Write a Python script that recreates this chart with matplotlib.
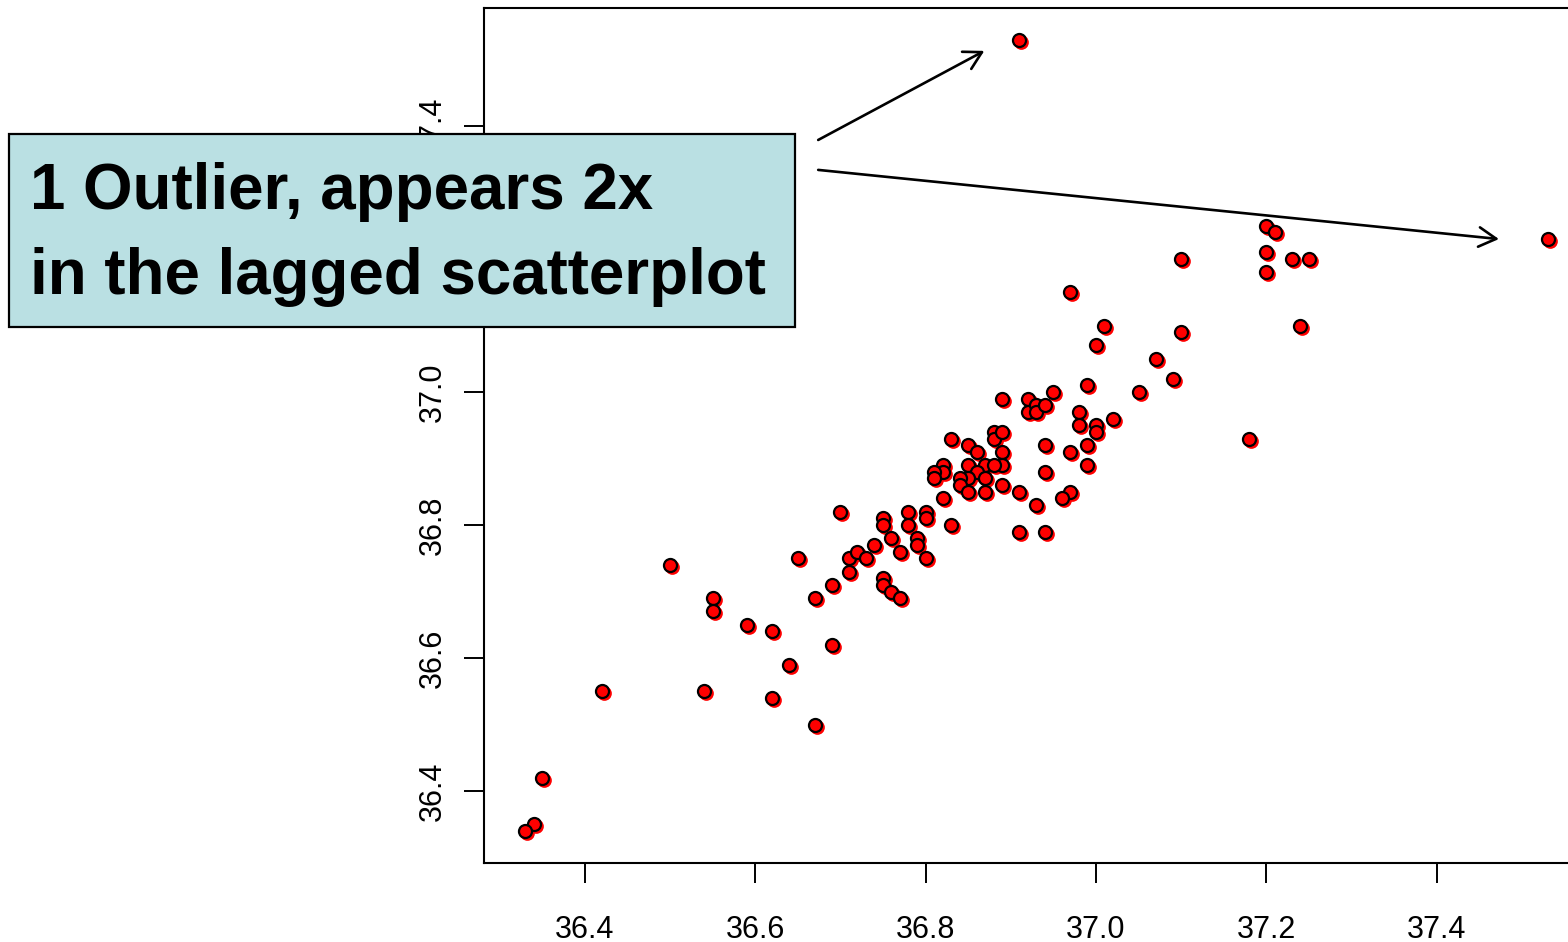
import numpy as np
import matplotlib
matplotlib.use("Agg")
import matplotlib.pyplot as plt
from matplotlib.patches import Rectangle
from matplotlib import transforms

plt.rcParams['font.family'] = ['Liberation Sans', 'DejaVu Sans']

# lagged pairs: temperature at t (x) vs temperature at t+1 (y)
temp_t = [
    36.70, 36.75, 36.75, 36.76, 36.78, 36.78, 36.80, 36.80, 36.79, 36.79,
    36.83, 36.82, 36.83, 36.85, 36.86, 36.88, 36.88, 36.89, 36.89, 36.89,
    36.92, 36.92, 36.93, 36.93, 36.94, 36.95, 36.99, 37.05, 36.98, 36.98,
    37.00, 37.00, 37.02, 36.94, 36.97, 36.99, 36.99, 36.94, 36.97, 36.96,
    36.93, 36.91, 36.91, 36.94, 36.89, 36.89, 36.85, 36.87, 36.88, 36.86,
    36.87, 36.85, 36.84, 36.84, 36.85, 36.87, 36.82, 36.82, 36.81, 36.81,
    36.50, 36.55, 36.55, 36.59, 36.62, 36.64, 36.69, 36.54, 36.62, 36.67,
    36.65, 36.67, 36.69, 36.71, 36.71, 36.72, 36.73, 36.74, 36.75, 36.75,
    36.76, 36.77, 36.77, 36.80, 37.20, 37.21, 37.20, 37.20, 37.23, 37.25,
    37.10, 36.97, 37.01, 37.10, 37.24, 37.00, 37.07, 37.09, 37.18, 37.53,
    36.42, 36.35, 36.34, 36.33, 36.91,
]
temp_next = [
    36.82, 36.81, 36.80, 36.78, 36.82, 36.80, 36.82, 36.81, 36.78, 36.77,
    36.80, 36.84, 36.93, 36.92, 36.91, 36.94, 36.93, 36.94, 36.91, 36.99,
    36.99, 36.97, 36.98, 36.97, 36.98, 37.00, 37.01, 37.00, 36.97, 36.95,
    36.95, 36.94, 36.96, 36.92, 36.91, 36.92, 36.89, 36.88, 36.85, 36.84,
    36.83, 36.85, 36.79, 36.79, 36.89, 36.86, 36.89, 36.89, 36.89, 36.88,
    36.87, 36.87, 36.87, 36.86, 36.85, 36.85, 36.89, 36.88, 36.88, 36.87,
    36.74, 36.69, 36.67, 36.65, 36.64, 36.59, 36.62, 36.55, 36.54, 36.50,
    36.75, 36.69, 36.71, 36.75, 36.73, 36.76, 36.75, 36.77, 36.72, 36.71,
    36.70, 36.69, 36.76, 36.75, 37.25, 37.24, 37.21, 37.18, 37.20, 37.20,
    37.20, 37.15, 37.10, 37.09, 37.10, 37.07, 37.05, 37.02, 36.93, 37.23,
    36.55, 36.42, 36.35, 36.34, 37.53,
]
tick_vals = [36.4, 36.6, 36.8, 37.0, 37.2, 37.4]
note_lines = ["1 Outlier, appears 2x", "in the lagged scatterplot"]

x = np.array(temp_t)
y = np.array(temp_next)

W, H = 1568, 942
fig = plt.figure(figsize=(W / 100, H / 100), dpi=100)
ax = fig.add_axes([484.2 / W, (H - 862.6) / H, 1104.2 / W, 854.7 / H])


def r_range(v):
    # R-style 4% padding on each side
    pad = 0.04 * (v.max() - v.min())
    return v.min() - pad, v.max() + pad


ax.set_xlim(*r_range(x))
ax.set_ylim(*r_range(y))

# red "shadow" under each point, shifted down-right a little
shadow = transforms.offset_copy(ax.transData, fig=fig, x=2, y=-2, units='dots')
ax.scatter(x, y, s=112, color='#ff0000', linewidths=0, transform=shadow, zorder=2)
ax.scatter(x, y, s=88, facecolor='#ff0000', edgecolor='black', linewidths=1.6, zorder=3)

# the 37.2 label sits under the note box, so leave it blank
ylabels = ["" if abs(v - 37.2) < 1e-9 else f"{v:.1f}" for v in tick_vals]
ax.set_xticks(tick_vals)
ax.set_yticks(tick_vals)
ax.set_xticklabels([f"{v:.1f}" for v in tick_vals])
ax.set_yticklabels(ylabels, rotation=90, va='center')
ax.tick_params(axis='both', length=14.4, width=1.4, labelsize=22, color='black')
ax.tick_params(axis='x', pad=23)
ax.tick_params(axis='y', pad=11.5)
for sp in ax.spines.values():
    sp.set_linewidth(1.5)

# arrows from the note to the two copies of the outlier
arrow_kw = dict(arrowstyle='->,head_length=1.25,head_width=0.7', color='black',
                lw=1.9, shrinkA=0, shrinkB=0, mutation_scale=10)
ax.annotate('', xy=(36.869, 37.513), xytext=(36.674, 37.379),
            arrowprops=arrow_kw, annotation_clip=False)
ax.annotate('', xy=(37.473, 37.230), xytext=(36.674, 37.334),
            arrowprops=arrow_kw, annotation_clip=False)

# note box drawn in figure pixels
box = Rectangle((9 / W, (H - 327) / H), 786 / W, 193 / H, transform=fig.transFigure,
                facecolor='#bae0e3', edgecolor='black', linewidth=1.6, zorder=10)
fig.add_artist(box)
fig.text(30 / W, (H - 209.5) / H, note_lines[0], fontsize=45.8, fontweight='bold',
         va='baseline', ha='left', zorder=11)
fig.text(30 / W, (H - 294) / H, note_lines[1], fontsize=45.8, fontweight='bold',
         va='baseline', ha='left', zorder=11)

fig.savefig("out.png", dpi=100)
